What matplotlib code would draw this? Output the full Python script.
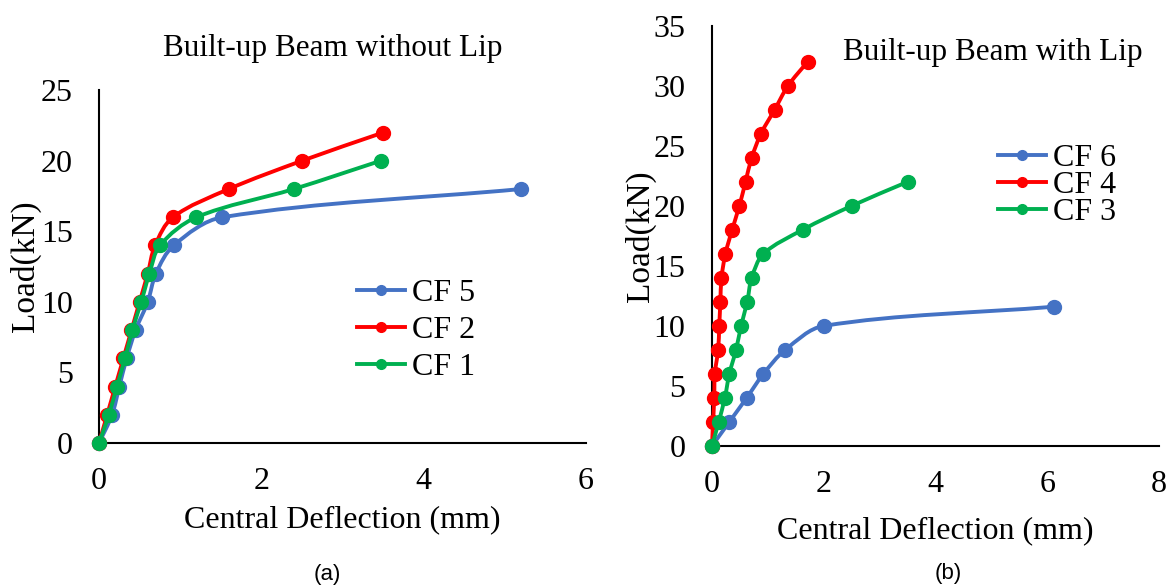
#!/usr/bin/env python3
"""Load-deflection curves of built-up beams, without and with lip."""
import numpy as np
import matplotlib
matplotlib.use("Agg")
import matplotlib.pyplot as plt
from matplotlib.path import Path
from matplotlib.patches import PathPatch

plt.rcParams["font.family"] = ["Liberation Serif", "DejaVu Serif"]

BLUE = "#4472C4"
RED = "#FF0000"
GREEN = "#00B050"

# (a) without lip
cf5_x = [0, 0.16, 0.25, 0.34, 0.45, 0.6, 0.7, 0.92, 1.52, 5.2]
cf5_y = [0, 2, 4, 6, 8, 10, 12, 14, 16, 18]
cf2_x = [0, 0.1, 0.2, 0.3, 0.4, 0.5, 0.6, 0.69, 0.91, 1.6, 2.5, 3.5]
cf2_y = [0, 2, 4, 6, 8, 10, 12, 14, 16, 18, 20, 22]
cf1_x = [0, 0.12, 0.22, 0.32, 0.41, 0.52, 0.62, 0.75, 1.2, 2.4, 3.47]
cf1_y = [0, 2, 4, 6, 8, 10, 12, 14, 16, 18, 20]

# (b) with lip
cf6_x = [0, 0.31, 0.62, 0.92, 1.31, 2.0, 6.12]
cf6_y = [0, 2, 4, 6, 8, 10, 11.6]
cf4_x = [0, 0.02, 0.04, 0.05, 0.11, 0.13, 0.15, 0.17, 0.24, 0.36, 0.49,
         0.6, 0.71, 0.875, 1.12, 1.36, 1.71]
cf4_y = [0, 2, 4, 6, 8, 10, 12, 14, 16, 18, 20, 22, 24, 26, 28, 30, 32]
cf3_x = [0, 0.12, 0.23, 0.31, 0.43, 0.52, 0.63, 0.71, 0.92, 1.62, 2.5, 3.5]
cf3_y = [0, 2, 4, 6, 8, 10, 12, 14, 16, 18, 20, 22]


def smooth_path(ax, xs, ys):
    # cubic Bezier through the points, tangents scaled by segment length
    # (worked out in screen space, like Excel's smoothed lines)
    pts = ax.transData.transform(np.column_stack([xs, ys]))
    n = len(pts)
    verts = [pts[0]]
    codes = [Path.MOVETO]

    def ctrl(i, forward):
        p = pts[i]
        prev = pts[max(i - 1, 0)]
        nxt = pts[min(i + 1, n - 1)]
        d_prev = np.hypot(*(p - prev))
        d_next = np.hypot(*(nxt - p))
        tot = d_prev + d_next
        if tot == 0:
            return p
        seg = d_next if forward else d_prev
        t = (nxt - prev) * seg / tot / 3
        return p + t if forward else p - t

    for i in range(n - 1):
        verts += [ctrl(i, True), ctrl(i + 1, False), pts[i + 1]]
        codes += [Path.CURVE4] * 3
    verts = ax.transData.inverted().transform(np.array(verts))
    return Path(verts, codes)


def draw_series(ax, xs, ys, color, label, z):
    ax.add_patch(PathPatch(smooth_path(ax, xs, ys), facecolor="none", edgecolor=color,
                           lw=2.8, capstyle="round", joinstyle="round", zorder=z,
                           clip_on=False))
    ax.plot(xs, ys, "o", color=color, ms=10, mec=color, zorder=z, clip_on=False)
    ax.plot([], [], "-o", color=color, lw=2.8, ms=7, label=label)


def style_axes(ax, xmax, ymax, step, xpad, ypad):
    ax.set_xlim(0, xmax)
    ax.set_ylim(0, ymax)
    ax.set_xticks(range(0, xmax + 1, 2))
    ax.set_yticks(range(0, ymax + 1, step))
    for s in ["top", "right"]:
        ax.spines[s].set_visible(False)
    for s in ["left", "bottom"]:
        ax.spines[s].set_linewidth(1.5)
        ax.spines[s].set_zorder(0)
    ax.tick_params(length=0, labelsize=23)
    ax.tick_params(axis="y", pad=19)
    ax.tick_params(axis="x", pad=17)
    ax.set_xlabel("Central Deflection (mm)", fontsize=23, labelpad=xpad)
    ax.set_ylabel("Load(kN)", fontsize=24, labelpad=ypad)


fig = plt.figure(figsize=(11.72, 5.86), dpi=100)

ax1 = fig.add_axes([0.0845, 0.244, 0.4155, 0.602])
style_axes(ax1, 6, 25, 5, 7, 0)
draw_series(ax1, cf5_x, cf5_y, BLUE, "CF 5", 3)
draw_series(ax1, cf2_x, cf2_y, RED, "CF 2", 4)
draw_series(ax1, cf1_x, cf1_y, GREEN, "CF 1", 5)
ax1.legend(loc="upper left", bbox_to_anchor=(0.3046, 0.525), bbox_transform=fig.transFigure,
           frameon=False, fontsize=23, borderpad=0, borderaxespad=0,
           handlelength=1.5, handletextpad=0.22, labelspacing=0.24)
fig.text(0.284, 0.918, "Built-up Beam without Lip", ha="center", va="center", fontsize=22.5)

ax2 = fig.add_axes([0.6075, 0.239, 0.3815, 0.717])
style_axes(ax2, 8, 35, 5, 13, -1.5)
draw_series(ax2, cf6_x, cf6_y, BLUE, "CF 6", 3)
draw_series(ax2, cf4_x, cf4_y, RED, "CF 4", 4)
draw_series(ax2, cf3_x, cf3_y, GREEN, "CF 3", 5)
ax2.legend(loc="upper left", bbox_to_anchor=(0.8515, 0.755), bbox_transform=fig.transFigure,
           frameon=False, fontsize=23, borderpad=0, borderaxespad=0,
           handlelength=1.5, handletextpad=0.22, labelspacing=-0.075)
fig.text(0.847, 0.911, "Built-up Beam with Lip", ha="center", va="center", fontsize=22.5)

fig.text(0.279, 0.019, "(a)", ha="center", va="center", fontsize=16, family="Liberation Sans")
fig.text(0.809, 0.022, "(b)", ha="center", va="center", fontsize=16, family="Liberation Sans")

fig.savefig("out.png", dpi=100)
